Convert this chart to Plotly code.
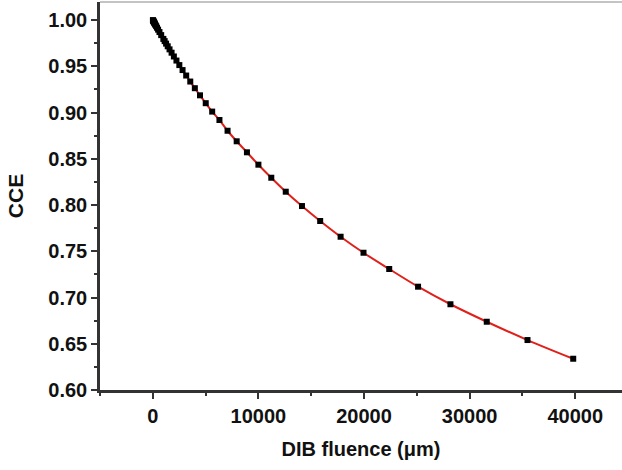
import plotly.graph_objects as go

# DIB fluence (um)
fluence = [10, 20, 40, 63, 100, 126, 158, 200, 251, 316, 398, 501, 631, 794,
           1000, 1122, 1259, 1413, 1585, 1778, 1995, 2239, 2512, 2818, 3162,
           3548, 3981, 4467, 5012, 5623, 6310, 7079, 7943, 8913, 10000, 11220,
           12589, 14125, 15849, 17783, 19953, 22387, 25119, 28184, 31623,
           35481, 39811]
# charge collection efficiency
cce = [0.9998, 0.9996, 0.9992, 0.9987, 0.9979, 0.9973, 0.9967, 0.9958,
       0.9947, 0.9934, 0.9917, 0.9896, 0.9870, 0.9837, 0.9796, 0.9772,
       0.9745, 0.9716, 0.9683, 0.9647, 0.9606, 0.9562, 0.9513, 0.9459,
       0.9400, 0.9335, 0.9263, 0.9186, 0.9101, 0.9010, 0.8919, 0.8803,
       0.8689, 0.8570, 0.8436, 0.8295, 0.8144, 0.7989, 0.7827, 0.7657,
       0.7484, 0.7308, 0.7117, 0.6927, 0.6738, 0.6540, 0.6338]

x_ticks = [0, 10000, 20000, 30000, 40000]
y_ticks = [0.60, 0.65, 0.70, 0.75, 0.80, 0.85, 0.90, 0.95, 1.00]

FONT = "Liberation Sans, Arial, sans-serif"

fig = go.Figure()
fig.add_trace(go.Scatter(x=fluence, y=cce, mode="lines",
                         line=dict(color="#e0201b", width=2, shape="spline"),
                         showlegend=False, hoverinfo="skip"))
fig.add_trace(go.Scatter(x=fluence, y=cce, mode="markers",
                         marker=dict(symbol="square", size=6, color="black"),
                         showlegend=False))

fig.update_layout(
    width=622, height=470,
    margin=dict(l=100, r=0, t=2, b=80),
    paper_bgcolor="white", plot_bgcolor="white",
    font=dict(family=FONT, color="#111"),
    xaxis=dict(
        range=[-5000, 44430], tickvals=x_ticks,
        ticktext=[str(v) for v in x_ticks],
        ticks="outside", ticklen=6, tickwidth=2, tickcolor="#333",
        showline=True, linecolor="#333", linewidth=2.5, showgrid=False,
        zeroline=False, mirror=False,
        tickfont=dict(size=20, family=FONT, weight="bold"),
        minor=dict(ticks="outside", dtick=5000, tick0=0, ticklen=3,
                   tickwidth=2, tickcolor="#333", showgrid=False),
        title=dict(text="DIB fluence (μm)", standoff=17,
                   font=dict(size=20, family=FONT, weight="bold")),
    ),
    yaxis=dict(
        range=[0.60, 1.0195], tickvals=y_ticks,
        ticktext=[f"{v:.2f}" for v in y_ticks],
        ticks="outside", ticklen=6, tickwidth=2, tickcolor="#333",
        showline=True, linecolor="#333", linewidth=2.5, showgrid=False,
        zeroline=False,
        tickfont=dict(size=20, family=FONT, weight="bold"),
        minor=dict(ticks="outside", dtick=0.025, tick0=0.6, ticklen=3,
                   tickwidth=2, tickcolor="#333", showgrid=False),
        title=dict(text="CCE", standoff=19,
                   font=dict(size=21, family=FONT, weight="bold")),
    ),
    shapes=[dict(type="line", xref="paper", yref="paper", x0=0, x1=1,
                 y0=1, y1=1, line=dict(color="#c4c4c4", width=2))],
)

fig.write_html("out.html")
